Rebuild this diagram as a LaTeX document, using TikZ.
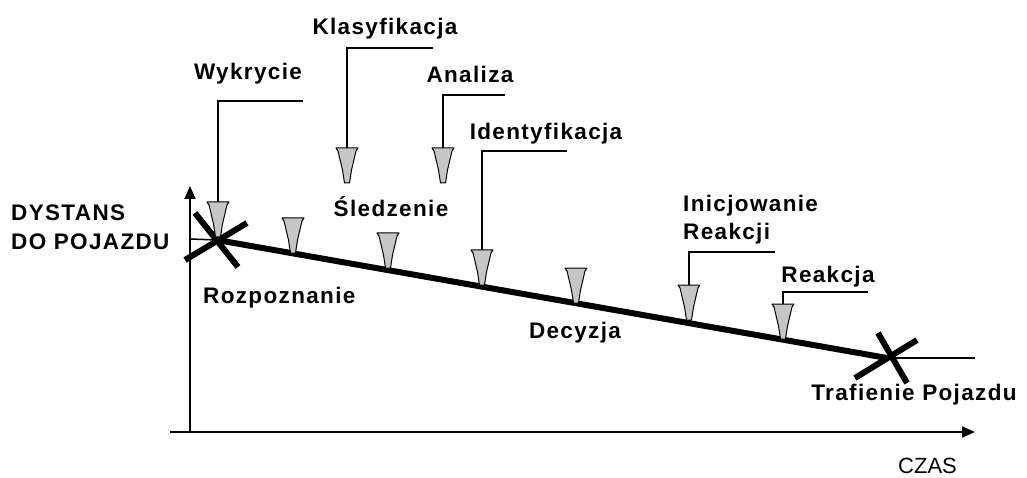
\documentclass[tikz,border=0pt]{standalone}
\usepackage{fontspec}
\setmainfont{Liberation Sans}[LetterSpace=6]
\usetikzlibrary{arrows.meta}
\tikzset{
  lbl/.style={font=\fontsize{22.5}{24}\selectfont\bfseries, inner sep=0pt, anchor=base},
  axis/.style={line width=1.8pt, -{Triangle[length=13pt,width=11pt]}},
  callout/.style={line width=1.8pt},
  thick line/.style={line width=6pt},
  funnel/.pic={\draw[fill=gray!45, line width=1pt, line join=round]
     (-11,0) -- (11,0) -- (9,3) -- (4.5,22) -- (2.5,35) -- (-2.5,35) -- (-4.5,22) -- (-9,3) -- cycle;}
}
\begin{document}
\begin{tikzpicture}[x=1pt,y=-1pt]
\useasboundingbox (0,0) rectangle (1027,478);
% coordinates
\coordinate (origin) at (190,432);
\coordinate (xstart) at (170,432);
\coordinate (xend) at (975,432);
\coordinate (ytop) at (190,186);
\coordinate (start) at (217,240);
\coordinate (hit) at (887,358);
\coordinate (hitR) at (975,358);
\coordinate (tickL) at (190,239);
% funnel tops
\coordinate (f1) at (218,202);
\coordinate (f2) at (293,218);
\coordinate (f3) at (347,148);
\coordinate (f4) at (388,233);
\coordinate (f5) at (443,148);
\coordinate (f6) at (482,250);
\coordinate (f7) at (576,268);
\coordinate (f8) at (689,285);
\coordinate (f9) at (783,304);
% callout ends
\coordinate (c1) at (303,101);
\coordinate (c3) at (433,48);
\coordinate (c5) at (505,95);
\coordinate (c6) at (567,151);
\coordinate (c8) at (775,252);
\coordinate (c9) at (868,292);

% axes
\draw[axis] (xstart) -- (xend);
\draw[axis] (origin) -- (ytop);
\draw[line width=1.5pt] (tickL) -- (start);
\draw[line width=1.5pt] (hit) -- (hitR);

% main line and crosses
\draw[thick line] (start) -- (hit);
\draw[thick line] (195,213) -- (238,267);
\draw[thick line] (185,260) -- (247,223);
\draw[thick line] (855,378) -- (917,340);
\draw[thick line] (878,333) -- (907,383);

% callouts
\draw[callout] (c1) -| (f1);
\draw[callout] (c3) -| (f3);
\draw[callout] (c5) -| (f5);
\draw[callout] (c6) -| (f6);
\draw[callout] (c8) -| (f8);
\draw[callout] (c9) -| (f9);

% funnels
\foreach \f in {f1,f2,f3,f4,f5,f6,f7,f8,f9} \pic at (\f) {funnel};

% labels
\node[lbl] (klas) at (385,35) {Klasyfikacja};
\node[lbl] (wyk) at (248,80) {Wykrycie};
\node[lbl] (anal) at (470,83) {Analiza};
\node[lbl] (ident) at (546,140) {Identyfikacja};
\node[lbl] (sled) at (391,217) {Śledzenie};
\node[lbl, anchor=base west] (rozp) at (203,303) {Rozpoznanie};
\node[lbl] (decy) at (575,338) {Decyzja};
\node[lbl, anchor=base west] (inic) at (683,212) {Inicjowanie};
\node[lbl, anchor=base west] (reakcji) at (683,240) {Reakcji};
\node[lbl] (reak) at (828,282) {Reakcja};
\node[lbl] (traf) at (914,400) {Trafienie Pojazdu};
\node[lbl, anchor=base west] (dyst) at (11,221) {DYSTANS};
\node[lbl, anchor=base west] (dopoj) at (11,250) {DO POJAZDU};
\node[inner sep=0pt, anchor=base west, font=\fontsize{22}{24}\selectfont\addfontfeature{LetterSpace=0}] (czas) at (898,473) {CZAS};
\end{tikzpicture}
\end{document}
